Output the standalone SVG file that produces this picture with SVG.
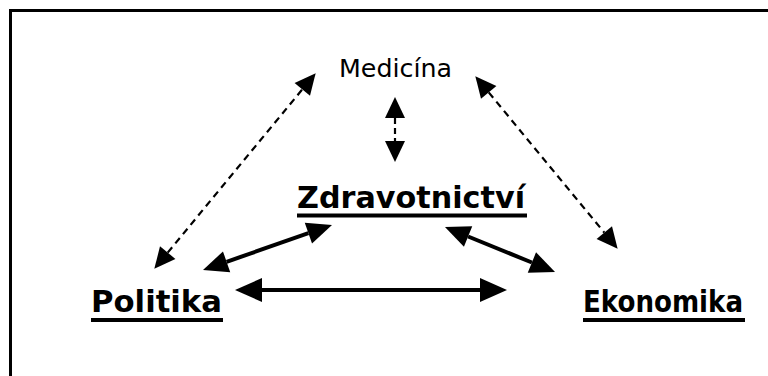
<svg xmlns="http://www.w3.org/2000/svg" width="768" height="376" viewBox="0 0 768 376">
  <style>
    .bg { fill: #ffffff; }
    .frame { fill: none; stroke: #000; stroke-width: 3; }
    .lbl { font-family: "DejaVu Sans", "Verdana", sans-serif; fill: #000; }
    .big { font-weight: bold; font-size: 30px; }
    .small { font-size: 25px; }
    .ul { fill: #000; }
    .solid { stroke: #000; stroke-width: 4; fill: none; }
    .dash { stroke: #000; stroke-width: 2.2; stroke-dasharray: 7 5; fill: none; }
  </style>
  <defs>
    <marker id="ahBig" markerUnits="userSpaceOnUse" viewBox="0 -12 27 24" markerWidth="27" markerHeight="24" refX="0" refY="0" orient="auto-start-reverse" overflow="visible">
      <path d="M0,-12 L27,0 L0,12 Z" fill="#000"/>
    </marker>
    <marker id="ahMid" markerUnits="userSpaceOnUse" viewBox="0 -11 25 22" markerWidth="25" markerHeight="22" refX="0" refY="0" orient="auto-start-reverse" overflow="visible">
      <path d="M0,-11 L25,0 L0,11 Z" fill="#000"/>
    </marker>
    <marker id="ahDash" markerUnits="userSpaceOnUse" viewBox="0 -10 21 20" markerWidth="21" markerHeight="20" refX="0" refY="0" orient="auto-start-reverse" overflow="visible">
      <path d="M0,-10 L21,0 L0,10 Z" fill="#000"/>
    </marker>
  </defs>
  <rect class="bg" x="0" y="0" width="768" height="376"/>
  <path class="frame" d="M10.5,376 V10.5 H768"/>

  <g id="connectors">
    <line class="solid" x1="262" y1="290" x2="480" y2="290" marker-start="url(#ahBig)" marker-end="url(#ahBig)"/>
    <line class="solid" x1="226.6" y1="261.8" x2="308.4" y2="233.2" marker-start="url(#ahMid)" marker-end="url(#ahMid)"/>
    <line class="solid" x1="468.1" y1="236.5" x2="531.9" y2="262.5" marker-start="url(#ahMid)" marker-end="url(#ahMid)"/>
    <line class="dash" x1="167.7" y1="252.6" x2="302.3" y2="89.4" marker-start="url(#ahDash)" marker-end="url(#ahDash)"/>
    <line class="dash" x1="488.7" y1="92.4" x2="604.3" y2="232.6" marker-start="url(#ahDash)" marker-end="url(#ahDash)"/>
    <line class="dash" style="stroke-dasharray:6 4" x1="395" y1="118" x2="395" y2="141" marker-start="url(#ahDash)" marker-end="url(#ahDash)"/>
  </g>

  <g id="medicina">
    <text class="lbl small" x="339" y="77" textLength="113" lengthAdjust="spacingAndGlyphs">Medicína</text>
  </g>
  <g id="zdravotnictvi">
    <text class="lbl big" x="297" y="208" textLength="228" lengthAdjust="spacingAndGlyphs">Zdravotnictví</text>
    <rect class="ul" x="297" y="213.5" width="230" height="4"/>
  </g>
  <g id="politika">
    <text class="lbl big" x="91" y="312" textLength="131" lengthAdjust="spacingAndGlyphs">Politika</text>
    <rect class="ul" x="91" y="318" width="132" height="4"/>
  </g>
  <g id="ekonomika">
    <text class="lbl big" x="583" y="312" textLength="160" lengthAdjust="spacingAndGlyphs">Ekonomika</text>
    <rect class="ul" x="583" y="318" width="162" height="4"/>
  </g>
</svg>
